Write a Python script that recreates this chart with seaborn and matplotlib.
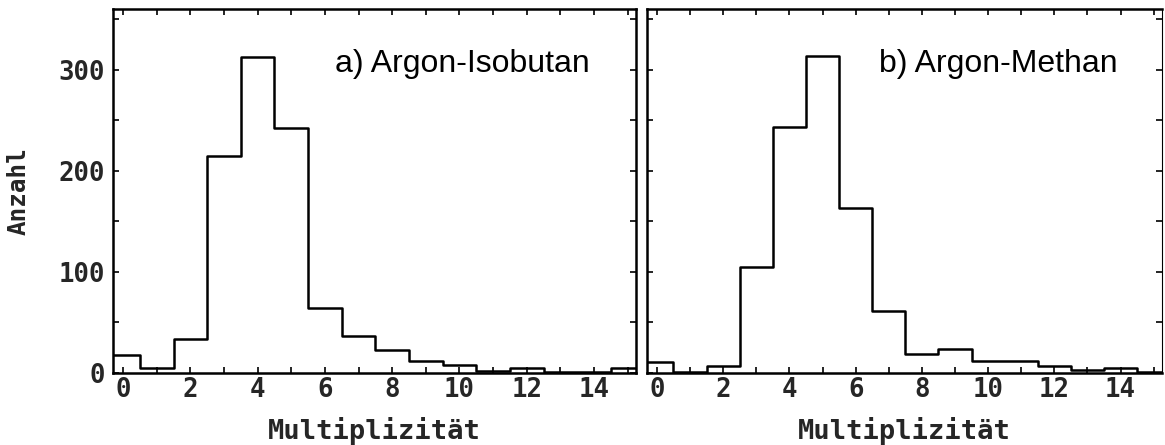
import numpy as np
import pandas as pd
import matplotlib
matplotlib.use("Agg")
import matplotlib.pyplot as plt
import seaborn as sns
from matplotlib.ticker import MultipleLocator

# ---- data ----
multiplicity = list(range(16))
counts_isobutan = [18, 5, 34, 215, 313, 242, 64, 37, 23, 12, 8, 2, 5, 1, 1, 5]
counts_methan = [11, 1, 7, 105, 243, 314, 163, 61, 19, 24, 12, 12, 7, 3, 5, 1]
panel_titles = ["a) Argon-Isobutan", "b) Argon-Methan"]
x_label = "Multiplizität"
y_label = "Anzahl"
x_ticks = [0, 2, 4, 6, 8, 10, 12, 14]
y_ticks = [0, 100, 200, 300]

sns.set_theme(style="ticks")
plt.rcParams["font.family"] = ["DejaVu Sans Mono", "DejaVu Sans"]

W, H = 1165, 445
fig = plt.figure(figsize=(W / 100, H / 100), dpi=100)
ax1 = fig.add_axes([113 / W, (H - 373) / H, 523 / W, 364 / H])
ax2 = fig.add_axes([647 / W, (H - 373) / H, 515 / W, 364 / H])

mono = dict(family="DejaVu Sans Mono", weight="bold")

for ax, counts, title, tx in [
    (ax1, counts_isobutan, panel_titles[0], 0.425),
    (ax2, counts_methan, panel_titles[1], 0.45),
]:
    df = pd.DataFrame({"m": multiplicity, "n": counts})
    sns.histplot(data=df, x="m", weights="n", discrete=True, element="step",
                 fill=False, color="black", linewidth=1.8, ax=ax)
    ax.set_xlim(-0.3, 15.25)
    ax.set_ylim(0, 360)
    ax.xaxis.set_minor_locator(MultipleLocator(1))
    ax.yaxis.set_minor_locator(MultipleLocator(50))
    ax.set_xticks(x_ticks)
    ax.set_yticks(y_ticks)
    ax.tick_params(which="both", direction="in", top=True, right=True,
                   length=4, width=1.2, color="black")
    ax.tick_params(axis="x", pad=3)
    for lab in ax.get_xticklabels():
        lab.set_fontsize(18.5)
        lab.set_fontweight("bold")
        lab.set_family("DejaVu Sans Mono")
    for sp in ax.spines.values():
        sp.set_visible(True)
        sp.set_linewidth(1.8)
        sp.set_color("black")
    ax.set_xlabel(x_label, fontsize=19.5, labelpad=10, **mono)
    ax.set_ylabel("")
    ax.text(tx, 0.85, title, transform=ax.transAxes, fontsize=23,
            family="Liberation Sans", va="center", ha="left", color="black")
    ax.set_facecolor("white")

for lab in ax1.get_yticklabels():
    lab.set_fontsize(18.5)
    lab.set_fontweight("bold")
    lab.set_family("DejaVu Sans Mono")
ax1.tick_params(axis="y", pad=6)
ax2.set_yticklabels([])
ax2.spines["right"].set_linewidth(0.8)
ax1.set_ylabel(y_label, fontsize=17.5, labelpad=20, **mono)

fig.savefig("out.png", dpi=100, facecolor="white")
